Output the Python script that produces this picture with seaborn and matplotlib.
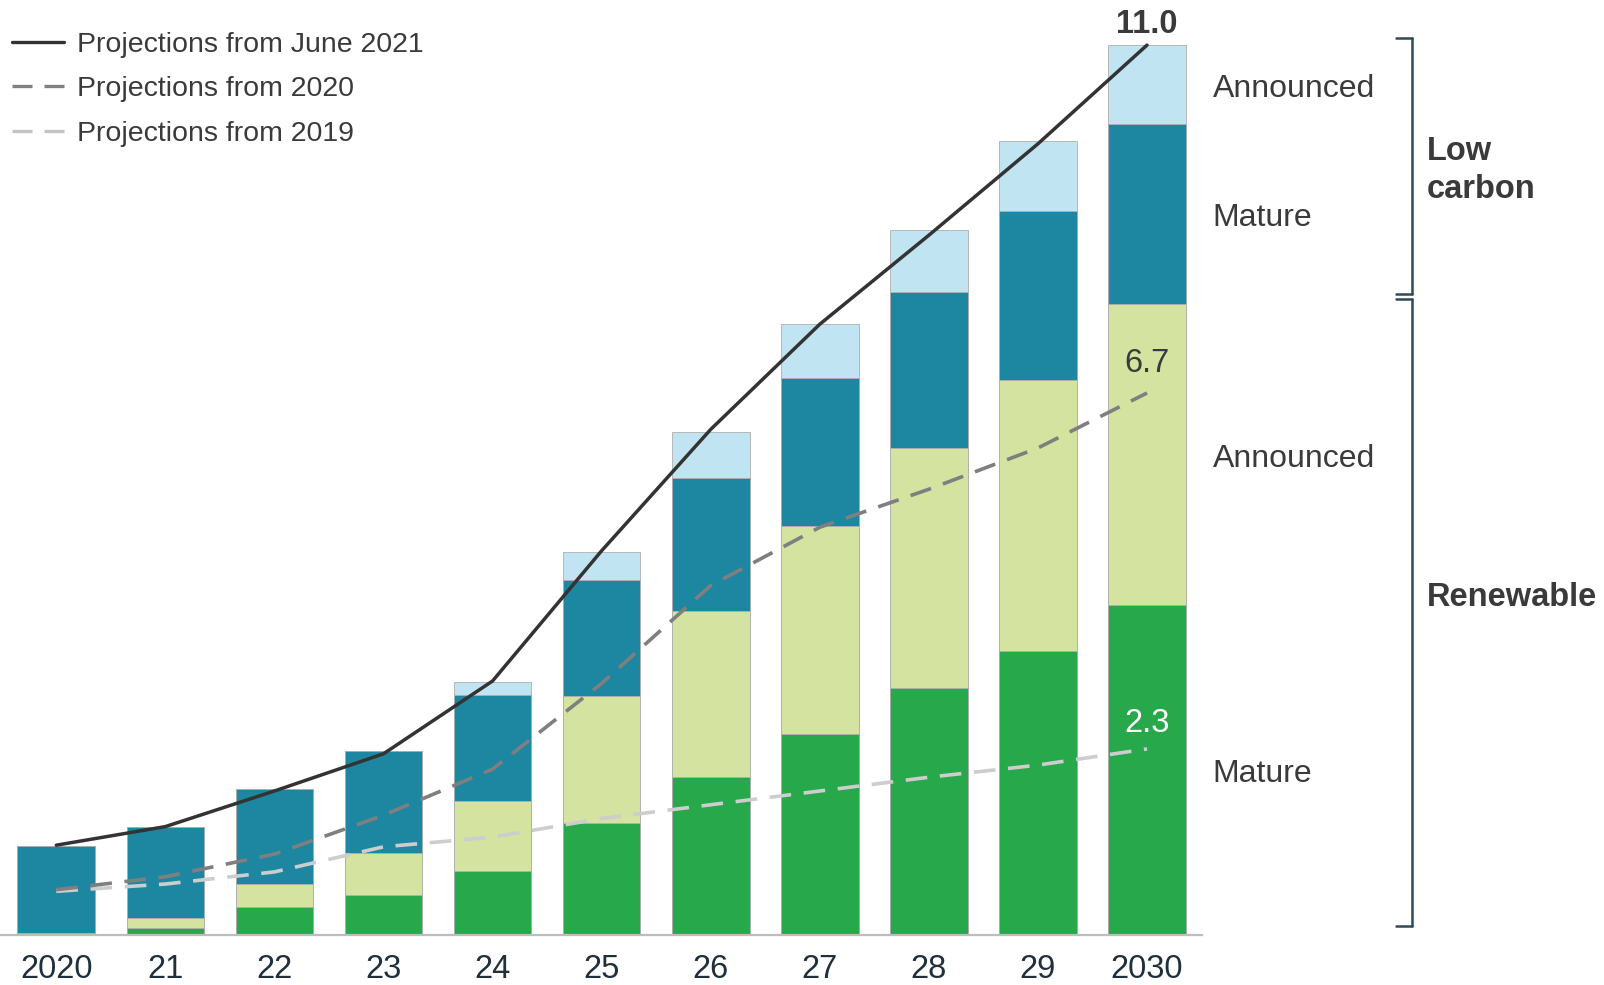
import numpy as np
import pandas as pd
import seaborn as sns
import matplotlib
matplotlib.use("Agg")
import matplotlib.pyplot as plt
from matplotlib.lines import Line2D

# ---------------- data ----------------
years = ["2020", "21", "22", "23", "24", "25", "26", "27", "28", "29", "2030"]
ren_mature = [0.03, 0.09, 0.35, 0.49, 0.79, 1.38, 1.95, 2.49, 3.05, 3.51, 4.08]
ren_announced = [0.00, 0.12, 0.28, 0.52, 0.87, 1.57, 2.06, 2.57, 2.97, 3.35, 3.72]
lc_mature = [1.07, 1.12, 1.18, 1.26, 1.31, 1.44, 1.64, 1.82, 1.93, 2.09, 2.23]
lc_announced = [0.00, 0.00, 0.00, 0.00, 0.16, 0.34, 0.57, 0.67, 0.77, 0.87, 0.97]

proj_june2021 = [1.11, 1.34, 1.78, 2.24, 3.14, 4.75, 6.25, 7.55, 8.65, 9.78, 11.0]
proj_2020 = [0.56, 0.72, 1.00, 1.48, 2.05, 3.11, 4.32, 5.04, 5.51, 6.02, 6.7]
proj_2019 = [0.54, 0.63, 0.78, 1.09, 1.21, 1.44, 1.61, 1.78, 1.95, 2.10, 2.3]

legend_labels = ["Projections from June 2021", "Projections from 2020", "Projections from 2019"]
segment_labels = ["Announced", "Mature", "Announced", "Mature"]
group_labels = ["Low\ncarbon", "Renewable"]

# ---------------- style ----------------
C_GREEN = "#27a84b"
C_LGREEN = "#d4e4a0"
C_TEAL = "#1d87a1"
C_LBLUE = "#c0e4f1"
C_TEXT = "#3a3a3a"
C_TICK = "#1f2f3b"
C_BRACKET = "#2f4b57"

sns.set_theme(style="white")
plt.rcParams['font.family'] = ['Liberation Sans', 'DejaVu Sans']

W, H = 1604, 985
fig = plt.figure(figsize=(W / 100, H / 100), dpi=100)
base_px, top_px = 935, 20
ax = fig.add_axes([0 / W, (H - base_px) / H, 1202 / W, (base_px - top_px) / H])

df = pd.DataFrame({
    "year": years,
    "c1": np.array(ren_mature),
})
df["c2"] = df["c1"] + np.array(ren_announced)
df["c3"] = df["c2"] + np.array(lc_mature)
df["c4"] = df["c3"] + np.array(lc_announced)

for col, colour in [("c4", C_LBLUE), ("c3", C_TEAL), ("c2", C_LGREEN), ("c1", C_GREEN)]:
    sns.barplot(data=df, x="year", y=col, order=years, color=colour, saturation=1,
                width=0.712, edgecolor="#b0b0b0", linewidth=0.6, ax=ax, zorder=2)

x = np.arange(len(years))
ax.plot(x, proj_2019, color="#cdcdcd", lw=2.6, dashes=(6, 3.5), zorder=4, clip_on=False)
ax.plot(x, proj_2020, color="#7f7f7f", lw=2.6, dashes=(6, 3.5), zorder=5, clip_on=False)
ax.plot(x, proj_june2021, color="#333333", lw=2.5, zorder=6, clip_on=False,
        solid_capstyle="round")

ax.set_xlim(-0.516, 10.504)
ax.set_ylim(0, (base_px - top_px) / 80.9)
ax.set_yticks([])
ax.set_xlabel("")
ax.set_ylabel("")
for s in ["left", "top", "right"]:
    ax.spines[s].set_visible(False)
ax.spines["bottom"].set_color("#bdbdbd")
ax.spines["bottom"].set_linewidth(1.6)
ax.tick_params(axis="x", length=0, pad=14, labelsize=23.5, labelcolor=C_TICK)

# end-value labels
ax.annotate(f"{proj_june2021[-1]:.1f}", (x[-1], proj_june2021[-1]), xytext=(0, 9),
            textcoords="offset points", ha="center", va="baseline",
            fontsize=23.5, fontweight="bold", color=C_TEXT, zorder=7, annotation_clip=False)
ax.annotate(f"{proj_2020[-1]:.1f}", (x[-1], proj_2020[-1]), xytext=(0, 15),
            textcoords="offset points", ha="center", va="baseline",
            fontsize=23.5, color=C_TEXT, zorder=7)
ax.annotate(f"{proj_2019[-1]:.1f}", (x[-1], proj_2019[-1]), xytext=(0, 12),
            textcoords="offset points", ha="center", va="baseline",
            fontsize=23.5, color="white", zorder=7)

# segment labels at right of 2030 bar
last = len(years) - 1
bounds = [0, df["c1"][last], df["c2"][last], df["c3"][last], df["c4"][last]]
mids = [(bounds[4] + bounds[3]) / 2, (bounds[3] + bounds[2]) / 2,
        (bounds[2] + bounds[1]) / 2, (bounds[1] + bounds[0]) / 2]
for lab, m in zip(segment_labels, mids):
    ax.annotate(lab, (10.60, m), xytext=(0, -3), textcoords="offset points",
                ha="left", va="center", fontsize=23, color=C_TEXT, annotation_clip=False)

# brackets (figure pixel coords)
def fx(px):
    return px / W

def fy(py):
    return 1 - py / H

def bracket(y0, y1):
    xr, xl = 1412, 1396
    for xs, ys in [([xl, xr], [y0, y0]), ([xr, xr], [y0, y1]), ([xl, xr], [y1, y1])]:
        fig.add_artist(Line2D([fx(v) for v in xs], [fy(v) for v in ys],
                              color=C_BRACKET, lw=1.8, transform=fig.transFigure))

bracket(38, 294)
bracket(299, 926)

fig.text(fx(1427), fy(152), group_labels[0].split("\n")[0], ha="left", va="center",
         fontsize=23.5, fontweight="bold", color=C_TEXT)
fig.text(fx(1427), fy(190), group_labels[0].split("\n")[1], ha="left", va="center",
         fontsize=23.5, fontweight="bold", color=C_TEXT)
fig.text(fx(1427), fy(597), group_labels[1], ha="left", va="center",
         fontsize=23.5, fontweight="bold", color=C_TEXT)

# legend (manual)
leg_styles = [
    dict(color="#333333", lw=2.4),
    dict(color="#7f7f7f", lw=2.4, dashes=(6.0, 3.6)),
    dict(color="#c4c4c4", lw=2.4, dashes=(6.0, 3.6)),
]
for i, (lab, st) in enumerate(zip(legend_labels, leg_styles)):
    yy = [42, 86, 131][i]
    fig.add_artist(Line2D([fx(12), fx(64)], [fy(yy), fy(yy)], transform=fig.transFigure, **st))
    fig.text(fx(77), fy(yy + 3), lab, ha="left", va="center", fontsize=20.5, color=C_TEXT)

fig.savefig("out.png", dpi=100)
